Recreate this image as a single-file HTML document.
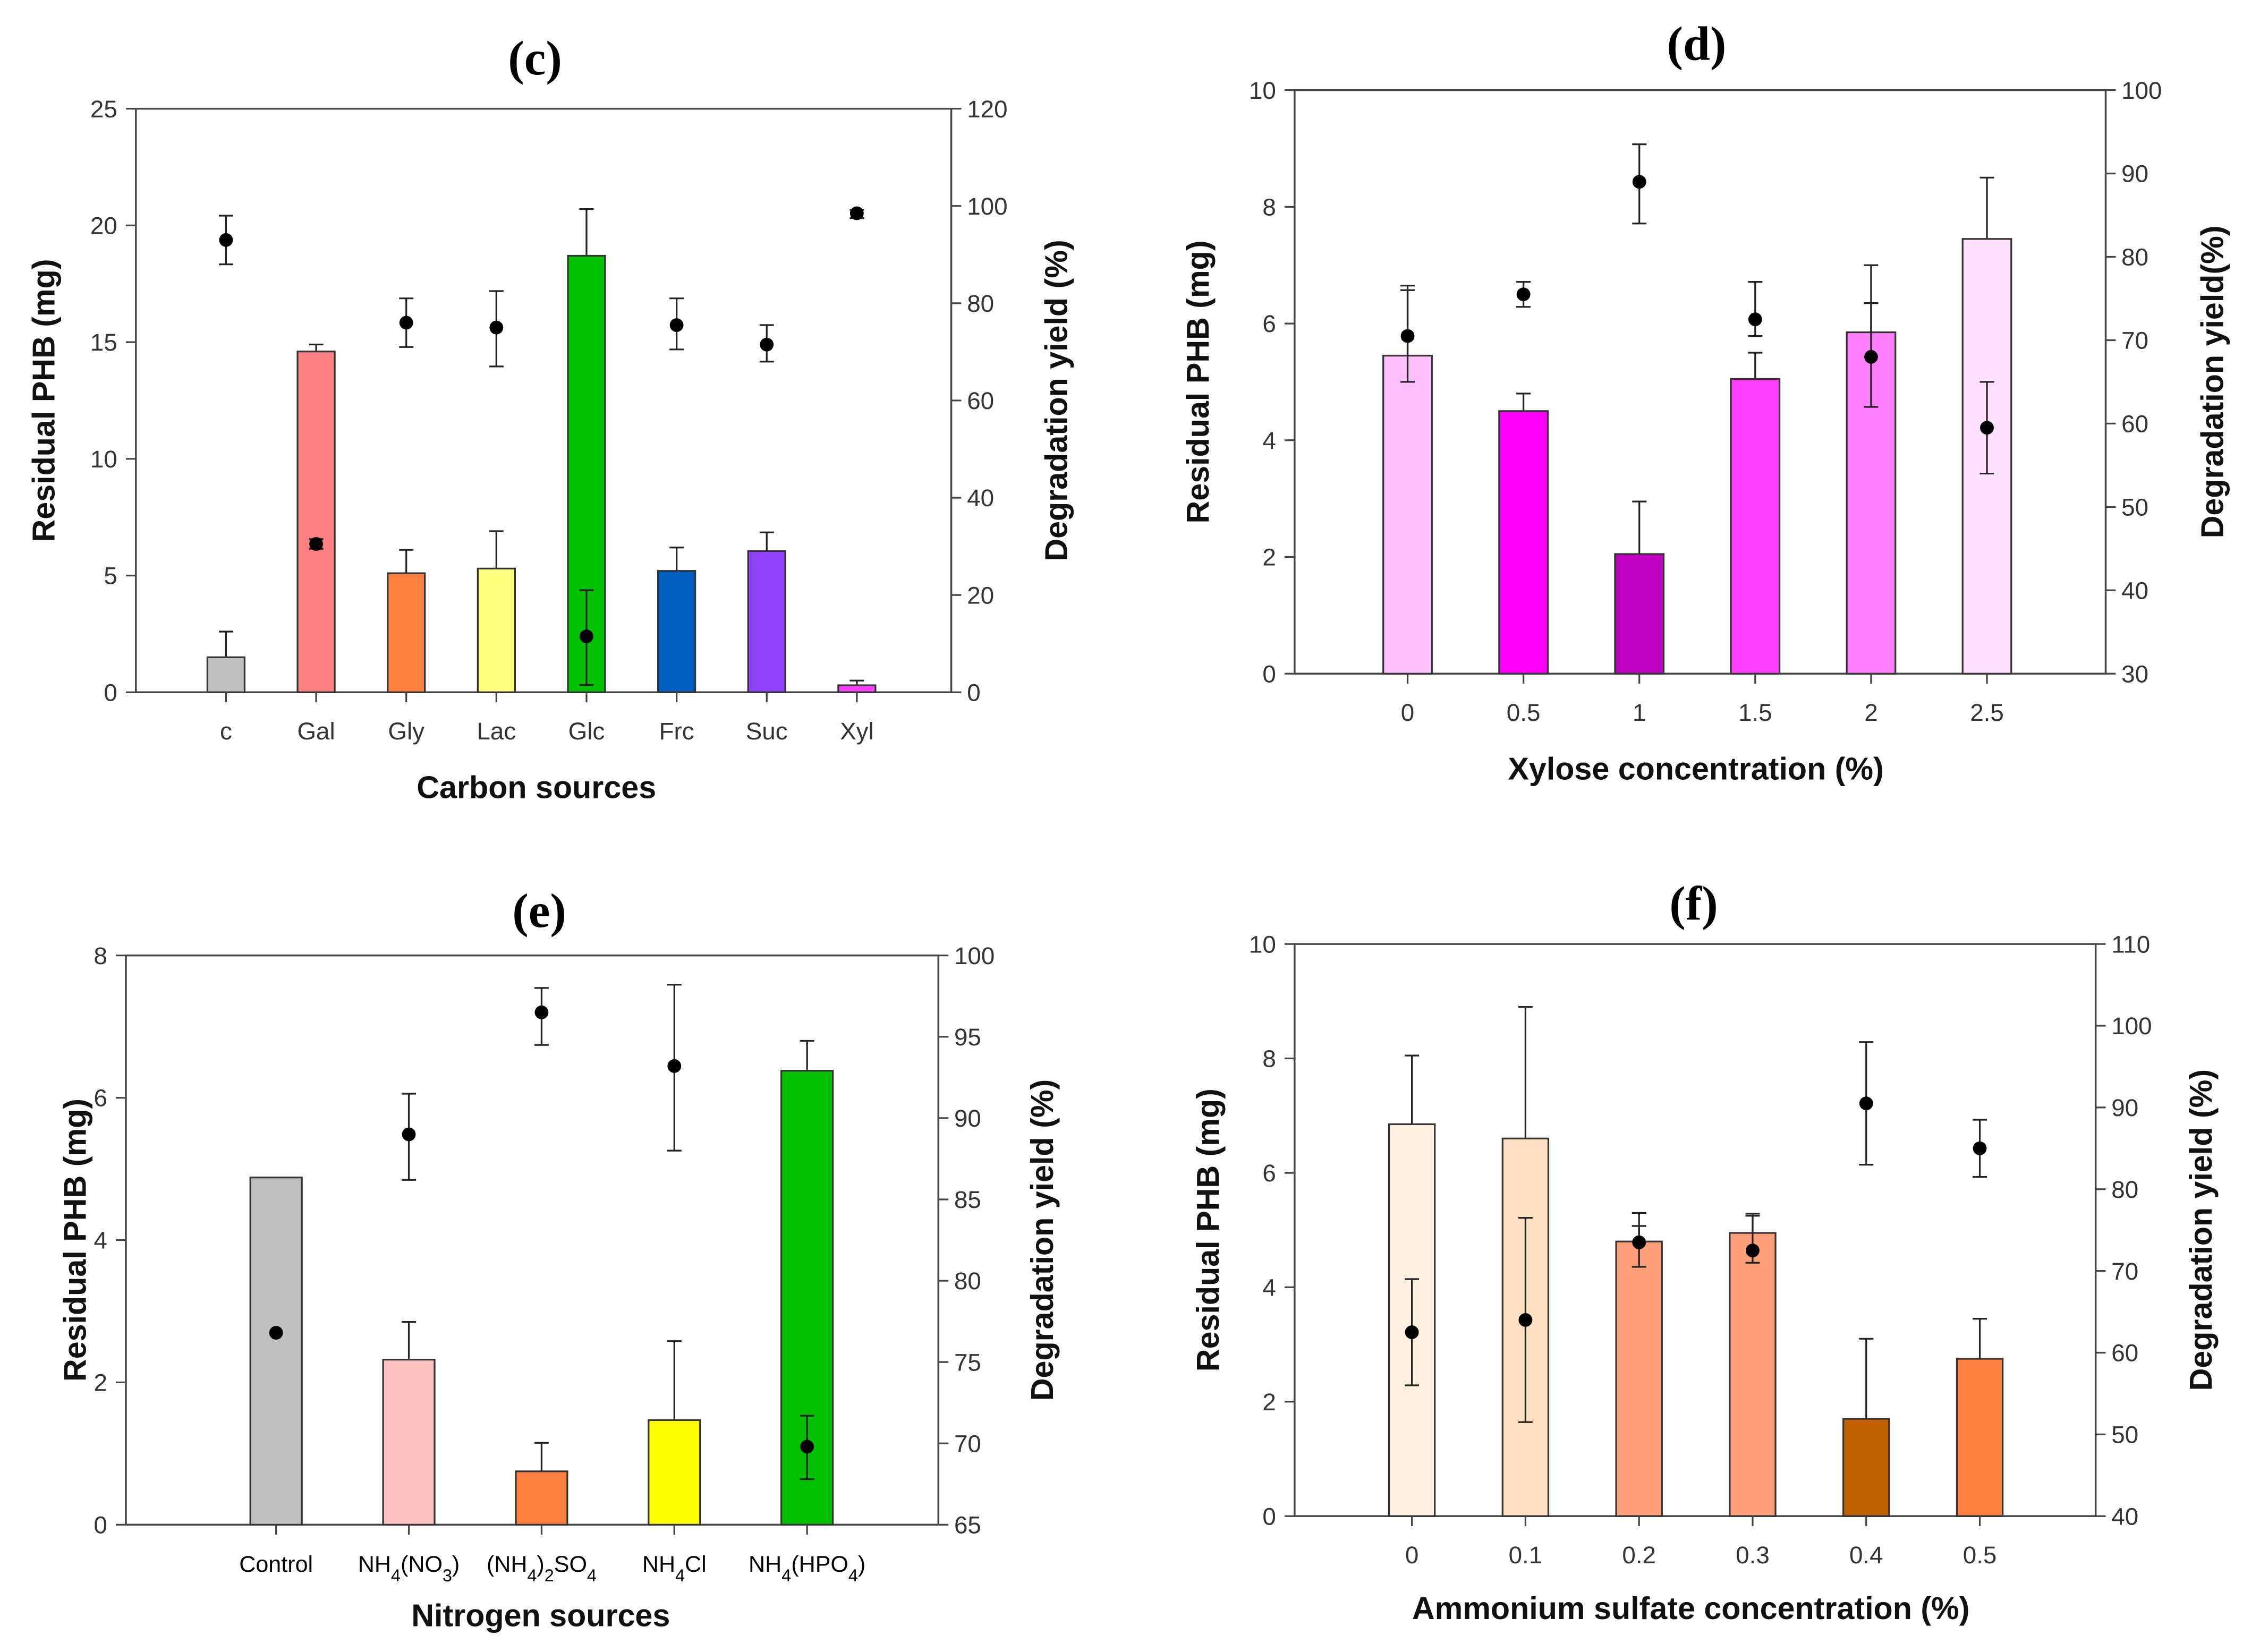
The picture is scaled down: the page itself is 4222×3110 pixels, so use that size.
<!DOCTYPE html>
<html><head><meta charset="utf-8"><style>
html,body{margin:0;padding:0;background:#fff}
svg{display:block}
</style></head><body>
<svg id="fig" xmlns="http://www.w3.org/2000/svg" width="4222" height="3110" viewBox="0 0 1568 1155" preserveAspectRatio="none">
<rect width="1568" height="1155" fill="#fff"/>
</svg>
<script>
// ---- Panel c data ----
const cCats = ["c","Gal","Gly","Lac","Glc","Frc","Suc","Xyl"];
const cBars = [1.5,14.6,5.1,5.3,18.7,5.2,6.05,0.3];
const cBarErr = [2.6,14.9,6.1,6.9,20.7,6.2,6.85,0.5];
const cDots = [93,30.5,76,75,11.5,75.5,71.5,98.5];
const cDotLo = [88,29.5,71,67,1.5,70.5,68,97.5];
const cDotHi = [98,31.5,81,82.5,21,81,75.5,99.2];
const cLeftTicks = [0,5,10,15,20,25];
const cRightTicks = [0,20,40,60,80,100,120];
// ---- Panel d data ----
const dCats = ["0","0.5","1","1.5","2","2.5"];
const dBars = [5.45,4.5,2.05,5.05,5.85,7.45];
const dBarErr = [6.65,4.8,2.95,5.5,6.35,8.5];
const dDots = [70.5,75.5,89,72.5,68,59.5];
const dDotLo = [65,74,84,70.5,62,54];
const dDotHi = [76,77,93.5,77,79,65];
const dLeftTicks = [0,2,4,6,8,10];
const dRightTicks = [30,40,50,60,70,80,90,100];
// ---- Panel e data ----
const eCats = ["Control","NH4(NO3)","(NH4)2SO4","NH4Cl","NH4(HPO4)"];
const eBars = [4.88,2.32,0.75,1.47,6.38];
const eBarErr = [4.88,2.85,1.15,2.58,6.8];
const eDots = [76.8,89,96.5,93.2,69.8];
const eDotLo = [76.8,86.2,94.5,88,67.8];
const eDotHi = [76.8,91.5,98,98.2,71.7];
const eLeftTicks = [0,2,4,6,8];
const eRightTicks = [65,70,75,80,85,90,95,100];
// ---- Panel f data ----
const fCats = ["0","0.1","0.2","0.3","0.4","0.5"];
const fBars = [6.85,6.6,4.8,4.95,1.7,2.75];
const fBarErr = [8.05,8.9,5.3,5.25,3.1,3.45];
const fDots = [62.5,64,73.5,72.5,90.5,85];
const fDotLo = [56,51.5,70.5,71,83,81.5];
const fDotHi = [69,76.5,75.5,77,98,88.5];
const fLeftTicks = [0,2,4,6,8,10];
const fRightTicks = [40,50,60,70,80,90,100,110];

const NS="http://www.w3.org/2000/svg";
const svg=document.getElementById('fig');
function mk(tag,attrs,parent){const e=document.createElementNS(NS,tag);for(const k in attrs)e.setAttribute(k,attrs[k]);(parent||svg).appendChild(e);return e;}

function panel(o){
  const g=mk('g',{});
  
  
  const L=o.L,R=o.R,T=o.T,B=o.B;
  const yl=v=>B-(v-o.lmin)/(o.lmax-o.lmin)*(B-T);
  const yr=v=>B-(v-o.rmin)/(o.rmax-o.rmin)*(B-T);
  const xc=i=>o.x0+i*o.dx;
  const fr=mk('rect',{x:L,y:T,width:R-L,height:B-T,fill:'none',stroke:'#444','stroke-width':1.3},g);
  
  
  o.bars.forEach((v,i)=>{
    const x=xc(i);
    const eb=mk('line',{x1:x,x2:x,y1:yl(v),y2:yl(o.barErr[i]),stroke:'#222','stroke-width':1.2},g);
    
    
    const ec=mk('line',{x1:x-5,x2:x+5,y1:yl(o.barErr[i]),y2:yl(o.barErr[i]),stroke:'#222','stroke-width':1.2},g);
    
    
    const r=mk('rect',{x:x-o.bw/2,y:yl(v),width:o.bw,height:yl(o.lmin)-yl(v),fill:o.colors[i],stroke:'#333','stroke-width':1.2},g);
    
    
  });
  o.dots.forEach((v,i)=>{
    const x=xc(i);
    if(o.dotHi[i]!==o.dotLo[i]){
      const l=mk('line',{x1:x,x2:x,y1:yr(o.dotLo[i]),y2:yr(o.dotHi[i]),stroke:'#222','stroke-width':1.2},g);
      
      
      [o.dotLo[i],o.dotHi[i]].forEach(w=>{
        const c=mk('line',{x1:x-5,x2:x+5,y1:yr(w),y2:yr(w),stroke:'#222','stroke-width':1.2},g);
        
        
      });
    }
    const d=mk('circle',{cx:x,cy:yr(v),r:4.8,fill:'#000'},g);
    
    
  });
  o.lt.forEach(v=>{
    const y=yl(v);
    const t=mk('line',{x1:L-7,x2:L,y1:y,y2:y,stroke:'#444','stroke-width':1.2},g);
    
    
    const tx=mk('text',{x:L-13,y:y+6,'text-anchor':'end','font-family':'Liberation Sans, sans-serif','font-size':17,fill:'#333'},g);
    tx.textContent=v;
    
    
  });
  o.rt.forEach(v=>{
    const y=yr(v);
    const t=mk('line',{x1:R,x2:R+7,y1:y,y2:y,stroke:'#444','stroke-width':1.2},g);
    
    
    const tx=mk('text',{x:R+11,y:y+6,'text-anchor':'start','font-family':'Liberation Sans, sans-serif','font-size':17,fill:'#333'},g);
    tx.textContent=v;
    
    
  });
  o.cats.forEach((c,i)=>{
    const x=xc(i);
    const t=mk('line',{x1:x,x2:x,y1:B,y2:B+7,stroke:'#444','stroke-width':1.2},g);
    
    
    const tx=mk('text',{x:x,y:B+33,'text-anchor':'middle','font-family':'Liberation Sans, sans-serif','font-size':o.catSize||17,fill:o.catColor||'#333'},g);
    
    
    let html='';
    c.split('').forEach((ch,k)=>{
      if(o.sub && /\d/.test(ch) && k>0 && /[A-Z)]/.test(c[k-1])) html+='<tspan font-size="12" baseline-shift="sub">'+ch+'</tspan>';
      else html+=ch;
    });
    tx.innerHTML=html;
  });
  const ti=mk('text',{x:o.tx,y:o.ty,'text-anchor':'middle','font-family':'Liberation Serif, serif','font-weight':'bold','font-size':34,fill:'#000'},g);
  ti.textContent=o.title;
  
  
  const xt=mk('text',{x:(L+R)/2+o.xtOff,y:o.xty,'text-anchor':'middle','font-family':'Liberation Sans, sans-serif','font-weight':'bold','font-size':22,fill:'#111'},g);
  xt.textContent=o.xtitle;
  
  
  const cy=(T+B)/2;
  const ylt=mk('text',{x:0,y:0,transform:`translate(${o.ylx},${cy}) rotate(-90)`,'text-anchor':'middle','font-family':'Liberation Sans, sans-serif','font-weight':'bold','font-size':22,fill:'#111'},g);
  ylt.textContent='Residual PHB (mg)';
  
  
  const yrt=mk('text',{x:0,y:0,transform:`translate(${o.yrx},${cy}) rotate(-90)`,'text-anchor':'middle','font-family':'Liberation Sans, sans-serif','font-weight':'bold','font-size':22,fill:'#111'},g);
  yrt.textContent=o.rtitle;
  
  
}

panel({name:'panel-c',L:95,R:665,T:76,B:484,lmin:0,lmax:25,rmin:0,rmax:120,x0:158,dx:63,bw:26,
  cats:cCats,bars:cBars,barErr:cBarErr,dots:cDots,dotLo:cDotLo,dotHi:cDotHi,lt:cLeftTicks,rt:cRightTicks,
  colors:['#c0c0c0','#ff8080','#ff8040','#ffff80','#00c000','#0060c0','#9040ff','#ff40ff'],
  title:'(c)',tx:374,ty:52,xtitle:'Carbon sources',xtOff:-5,xty:558,ylx:38,yrx:746,rtitle:'Degradation yield (%)'});
panel({name:'panel-d',L:905,R:1472,T:63,B:471,lmin:0,lmax:10,rmin:30,rmax:100,x0:984,dx:81,bw:34,
  cats:dCats,bars:dBars,barErr:dBarErr,dots:dDots,dotLo:dDotLo,dotHi:dDotHi,lt:dLeftTicks,rt:dRightTicks,
  colors:['#ffc0ff','#ff00ff','#c000c0','#ff40ff','#ff80ff','#ffe0ff'],
  title:'(d)',tx:1186,ty:42,xtitle:'Xylose concentration (%)',xtOff:-3,xty:545,ylx:845,yrx:1554,rtitle:'Degradation yield(%)'});
panel({name:'panel-e',L:88,R:656,T:668,B:1066,lmin:0,lmax:8,rmin:65,rmax:100,x0:193,dx:92.8,bw:36,sub:true,catColor:'#000',catSize:16,
  cats:eCats,bars:eBars,barErr:eBarErr,dots:eDots,dotLo:eDotLo,dotHi:eDotHi,lt:eLeftTicks,rt:eRightTicks,
  colors:['#c0c0c0','#ffc0c0','#ff8040','#ffff00','#00c000'],
  title:'(e)',tx:377,ty:648,xtitle:'Nitrogen sources',xtOff:6,xty:1137,ylx:60,yrx:736,rtitle:'Degradation yield (%)'});
panel({name:'panel-f',L:905,R:1465,T:660,B:1060,lmin:0,lmax:10,rmin:40,rmax:110,x0:987,dx:79.4,bw:32,
  cats:fCats,bars:fBars,barErr:fBarErr,dots:fDots,dotLo:fDotLo,dotHi:fDotHi,lt:fLeftTicks,rt:fRightTicks,
  colors:['#fff0e0','#ffe0c0','#ffa07a','#ffa07a','#c06000','#ff8040'],
  title:'(f)',tx:1184,ty:643,xtitle:'Ammonium sulfate concentration (%)',xtOff:-3,xty:1132,ylx:852,yrx:1546,rtitle:'Degradation yield (%)'});
</script>
</body></html>
